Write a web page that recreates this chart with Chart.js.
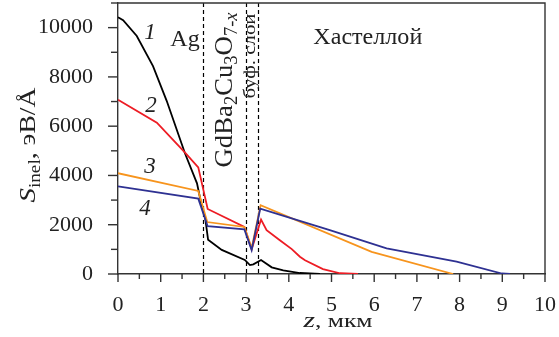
<!DOCTYPE html>
<html>
<head>
<meta charset="utf-8">
<script src="https://cdn.jsdelivr.net/npm/chart.js@4.4.0/dist/chart.umd.min.js"></script>
<style>
  html, body { margin: 0; padding: 0; background: #fff; }
</style>
</head>
<body>
<canvas id="chart" width="559" height="337"></canvas>
<script>
// axis ticks
const zTicks = [0, 1, 2, 3, 4, 5, 6, 7, 8, 9, 10];
const sTicks = [0, 2000, 4000, 6000, 8000, 10000];
// layer boundaries (мкм)
const layerEdges = [2, 3, 3.28];

// curve 1
const z1 = [0, 0.12, 0.44, 0.82, 1.14, 1.57, 1.85, 1.97, 2.04, 2.11, 2.43, 2.97, 3.09, 3.17, 3.35, 3.6, 3.87, 4.26, 4.73];
const s1 = [10420, 10300, 9660, 8440, 7030, 4890, 3680, 2680, 2300, 1390, 980, 570, 360, 390, 570, 270, 150, 40, 0];
// curve 2
const z2 = [0, 0.91, 1.57, 1.88, 2.1, 2.96, 3.13, 3.35, 3.48, 3.79, 4.07, 4.26, 4.38, 4.8, 5.2, 5.62];
const s2 = [7070, 6140, 4930, 4330, 2640, 1910, 1000, 2210, 1780, 1370, 1010, 700, 560, 200, 30, 0];
// curve 3
const z3 = [0, 1.88, 2.09, 2.96, 3.13, 3.34, 5.94, 7.85];
const s3 = [4090, 3370, 2110, 1910, 1050, 2790, 900, 0];
// curve 4
const z4 = [0, 1.88, 2.1, 2.96, 3.13, 3.33, 4.96, 6.29, 7.93, 8.99, 9.18];
const s4 = [3560, 3060, 1940, 1810, 970, 2650, 1780, 1040, 500, 20, 0];

const serif = 'Liberation Serif';
const ink = '#222';

Chart.defaults.font.family = serif;
Chart.defaults.font.size = 22;
Chart.defaults.color = ink;

function pts(zs, ss) {
  return zs.map((z, i) => ({ x: z, y: ss[i] }));
}

function series(zs, ss, color) {
  return {
    data: pts(zs, ss),
    borderColor: color,
    borderWidth: 1.8,
    pointRadius: 0,
    tension: 0,
    fill: false
  };
}

// text pieces: t = text, f = font, dy = baseline shift
function richWidth(ctx, parts) {
  let w = 0;
  parts.forEach(p => { ctx.font = p.f; w += ctx.measureText(p.t).width; });
  return w;
}
function drawRich(ctx, parts, x, y) {
  parts.forEach(p => {
    ctx.font = p.f;
    ctx.fillText(p.t, x, y + (p.dy || 0));
    x += ctx.measureText(p.t).width;
  });
}
// centred text at (px, py); len stretches it to a given length
function drawNote(ctx, parts, px, py, rot, len) {
  const w = richWidth(ctx, parts);
  const k = len ? len / w : 1;
  ctx.save();
  ctx.translate(px, py);
  if (rot) ctx.rotate(-Math.PI / 2);
  ctx.scale(k, 1);
  drawRich(ctx, parts, -w / 2, 0);
  ctx.restore();
}

const big = '24px ' + serif;
const it = 'italic 23px ' + serif;
const gd = '26px ' + serif;
const gdSub = '18px ' + serif;

// annotations placed in data coordinates (z, S = baseline); rot = rotated text
const notes = [
  { z: 0.75, s: 9540, parts: [{ t: '1', f: it }] },
  { z: 0.77, s: 6570, parts: [{ t: '2', f: it }] },
  { z: 0.75, s: 4100, parts: [{ t: '3', f: it }] },
  { z: 0.63, s: 2400, parts: [{ t: '4', f: it }] },
  { z: 1.57, s: 9250, parts: [{ t: 'Ag', f: big }] },
  { z: 5.85, s: 9330, parts: [{ t: 'Хастеллой', f: big }], len: 109 },
  { z: 2.66, s: 7470, rot: true, len: 155, parts: [
    { t: 'GdBa', f: gd }, { t: '2', f: gdSub, dy: 5 },
    { t: 'Cu', f: gd }, { t: '3', f: gdSub, dy: 5 },
    { t: 'O', f: gd }, { t: '7-', f: gdSub, dy: 5 }, { t: 'x', f: 'italic 18px ' + serif, dy: 5 }
  ] },
  { z: 3.22, s: 8850, rot: true, len: 85, parts: [{ t: 'буф. слои', f: '17px ' + serif }] }
];

const decor = {
  id: 'decor',
  beforeDatasetsDraw(chart) {
    const { ctx, chartArea: a, scales: { x } } = chart;
    ctx.save();
    ctx.strokeStyle = '#000';
    ctx.lineWidth = 1.2;
    ctx.setLineDash([4, 3]);
    layerEdges.forEach(v => {
      const px = Math.round(x.getPixelForValue(v)) + 0.5;
      ctx.beginPath();
      ctx.moveTo(px, a.top);
      ctx.lineTo(px, a.bottom);
      ctx.stroke();
    });
    ctx.restore();
  },
  afterDraw(chart) {
    const { ctx, chartArea: a, scales: { x, y } } = chart;
    ctx.save();
    ctx.strokeStyle = '#333';
    ctx.lineWidth = 1.4;
    // frame top and right
    ctx.beginPath();
    ctx.moveTo(a.left, a.top);
    ctx.lineTo(a.right, a.top);
    ctx.lineTo(a.right, a.bottom);
    ctx.stroke();
    // x ticks
    for (let v = 0; v <= 10; v += 0.5) {
      const px = x.getPixelForValue(v);
      const len = Number.isInteger(v) ? 8 : 5;
      ctx.beginPath();
      ctx.moveTo(px, a.bottom);
      ctx.lineTo(px, a.bottom + len);
      ctx.stroke();
    }
    // y ticks
    for (let v = 0; v <= 11000; v += 1000) {
      const py = y.getPixelForValue(v);
      const len = v % 2000 === 0 ? 10 : 7;
      ctx.beginPath();
      ctx.moveTo(a.left - len, py);
      ctx.lineTo(a.left, py);
      ctx.stroke();
    }

    ctx.fillStyle = ink;
    ctx.textBaseline = 'alphabetic';
    notes.forEach(n => {
      drawNote(ctx, n.parts, x.getPixelForValue(n.z), y.getPixelForValue(n.s), n.rot, n.len);
    });

    // axis titles
    const yTitle = [
      { t: 'S', f: 'italic 24px ' + serif },
      { t: 'inel', f: '16px ' + serif, dy: 5 },
      { t: ', эВ/Å', f: '23px ' + serif }
    ];
    drawNote(ctx, yTitle, 35, 145, true, 115);

    const xTitle = [
      { t: 'z', f: 'italic 22px ' + serif },
      { t: ', мкм', f: '19px ' + serif }
    ];
    drawNote(ctx, xTitle, 338, 327, false, 69);
    ctx.restore();
  }
};

new Chart(document.getElementById('chart'), {
  type: 'line',
  data: {
    datasets: [
      series(z4, s4, '#2e3192'),
      series(z3, s3, '#f7941d'),
      series(z2, s2, '#ed1c24'),
      series(z1, s1, '#000000')
    ]
  },
  options: {
    responsive: false,
    animation: false,
    layout: { padding: { left: 0, top: 3, right: 14, bottom: 0 } },
    plugins: { legend: { display: false }, tooltip: { enabled: false } },
    scales: {
      x: {
        type: 'linear',
        min: 0,
        max: 10,
        afterBuildTicks: s => { s.ticks = zTicks.map(v => ({ value: v })); },
        afterFit: s => { s.height = 63; s.paddingLeft = 0; s.paddingRight = 0; },
        grid: { display: false },
        border: { display: true, color: '#333', width: 1.4 },
        ticks: {
          color: ink, font: { family: serif, size: 22 }, padding: 10, maxRotation: 0,
          callback: v => String(v)
        }
      },
      y: {
        type: 'linear',
        min: 0,
        max: 11000,
        afterBuildTicks: s => { s.ticks = sTicks.map(v => ({ value: v })); },
        afterFit: s => { s.width = 118; s.paddingTop = 0; s.paddingBottom = 0; },
        grid: { display: false },
        border: { display: true, color: '#333', width: 1.4 },
        ticks: {
          color: ink, font: { family: serif, size: 22 }, padding: 17,
          callback: v => String(v)
        }
      }
    }
  },
  plugins: [decor]
});
</script>
</body>
</html>
